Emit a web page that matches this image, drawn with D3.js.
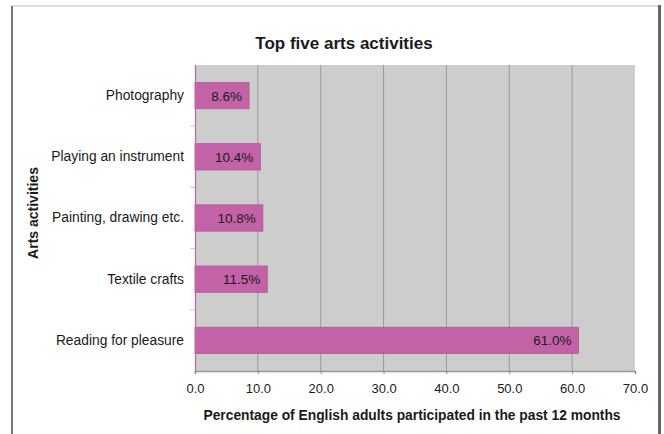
<!DOCTYPE html>
<html>
<head>
<meta charset="utf-8">
<script src="https://cdn.jsdelivr.net/npm/d3@7"></script>
<style>
  body { margin: 0; background: #fff; }
  text { font-family: "Liberation Sans", Arial, sans-serif; fill: #1a1a1a; }
</style>
</head>
<body>
<svg id="chart" width="664" height="434"></svg>
<script>
// chart data
let activities = ["Photography", "Playing an instrument", "Painting, drawing etc.", "Textile crafts", "Reading for pleasure"];
let percentages = [8.6, 10.4, 10.8, 11.5, 61.0];
let xTicks = [0, 10, 20, 30, 40, 50, 60, 70];

let WIDTH = 664;
let HEIGHT = 434;
let PLOT = {left: 195, right: 635, top: 65, bottom: 371};
let FONT = '"Liberation Sans", Arial, sans-serif';

let svg = d3.select('#chart');

// outer frame, like the pasted excel chart
svg.append('line').attr('x1', 12).attr('x2', 659).attr('y1', 6).attr('y2', 6)
    .attr('stroke', '#bbb').attr('stroke-width', 1);
svg.append('line').attr('x1', 12).attr('x2', 12).attr('y1', 6).attr('y2', HEIGHT)
    .attr('stroke', '#777').attr('stroke-width', 2);
svg.append('line').attr('x1', 659.5).attr('x2', 659.5).attr('y1', 5).attr('y2', HEIGHT)
    .attr('stroke', '#666').attr('stroke-width', 3);

let data = activities.map((a, i) => ({name: a, value: percentages[i]}));

// scales
let xScale = d3.scaleLinear()
    .domain([0, 70])
    .range([PLOT.left, PLOT.right]);

let yScale = d3.scaleBand()
    .domain(activities)
    .range([PLOT.top, PLOT.bottom])
    .paddingInner(0.57)
    .paddingOuter(0.285);

// grey plot area
svg.append('rect')
    .attr('x', PLOT.left).attr('y', PLOT.top)
    .attr('width', PLOT.right - PLOT.left).attr('height', PLOT.bottom - PLOT.top)
    .attr('fill', '#cdcdcd');

// vertical gridlines
svg.append('g')
    .selectAll('line')
    .data(xTicks.slice(1, -1))
    .join('line')
    .attr('x1', d => xScale(d)).attr('x2', d => xScale(d))
    .attr('y1', PLOT.top).attr('y2', PLOT.bottom)
    .attr('stroke', '#9a9a9a').attr('stroke-width', 1);

// bars
svg.append('g')
    .selectAll('rect')
    .data(data)
    .join('rect')
    .attr('x', xScale(0))
    .attr('y', d => yScale(d.name))
    .attr('width', d => xScale(d.value) - xScale(0))
    .attr('height', yScale.bandwidth())
    .attr('fill', '#c362a7')
    .attr('stroke', '#b0589a')
    .attr('stroke-width', 0.8);

// value labels inside bar ends
svg.append('g')
    .selectAll('text')
    .data(data)
    .join('text')
    .text(d => d.value.toFixed(1) + '%')
    .attr('x', d => xScale(d.value) - 7)
    .attr('y', d => yScale(d.name) + yScale.bandwidth() / 2 + 5)
    .attr('text-anchor', 'end')
    .attr('font-size', '13.5px');

// x axis
let xAxis = svg.append('g')
    .attr('transform', `translate(0,${PLOT.bottom})`)
    .call(d3.axisBottom(xScale).tickValues(xTicks).tickFormat(d3.format('.1f')).tickSize(3).tickPadding(10));
xAxis.select('.domain').attr('stroke', '#999').attr('stroke-width', 1.5);
xAxis.selectAll('.tick line').attr('stroke', '#c362a7');
xAxis.selectAll('.tick text')
    .attr('font-family', FONT)
    .attr('font-size', '13px').attr('fill', '#1a1a1a');

// y axis
let yAxis = svg.append('g')
    .attr('transform', `translate(${PLOT.left},0)`)
    .call(d3.axisLeft(yScale).tickSize(0).tickPadding(11));
yAxis.select('.domain').attr('stroke', '#c362a7').attr('stroke-width', 1.2);
yAxis.selectAll('.tick text')
    .attr('font-family', FONT)
    .attr('font-size', '13.8px').attr('fill', '#1a1a1a');

// category separator ticks on the y axis
let step = yScale.step();
svg.append('g')
    .selectAll('line')
    .data(activities.slice(1))
    .join('line')
    .attr('x1', PLOT.left - 5).attr('x2', PLOT.left)
    .attr('y1', d => yScale(d) - yScale.paddingInner() * step / 2)
    .attr('y2', d => yScale(d) - yScale.paddingInner() * step / 2)
    .attr('stroke', '#ccc');

// titles
svg.append('text')
    .text('Top five arts activities')
    .attr('x', 344).attr('y', 49)
    .attr('text-anchor', 'middle')
    .attr('font-size', '17px').attr('font-weight', 'bold');

svg.append('text')
    .text('Percentage of English adults participated in the past 12 months')
    .attr('x', 412).attr('y', 420)
    .attr('text-anchor', 'middle')
    .attr('font-size', '13.8px').attr('font-weight', 'bold');

svg.append('text')
    .text('Arts activities')
    .attr('transform', 'translate(38,213) rotate(-90)')
    .attr('text-anchor', 'middle')
    .attr('font-size', '14px').attr('font-weight', 'bold');
</script>
</body>
</html>
